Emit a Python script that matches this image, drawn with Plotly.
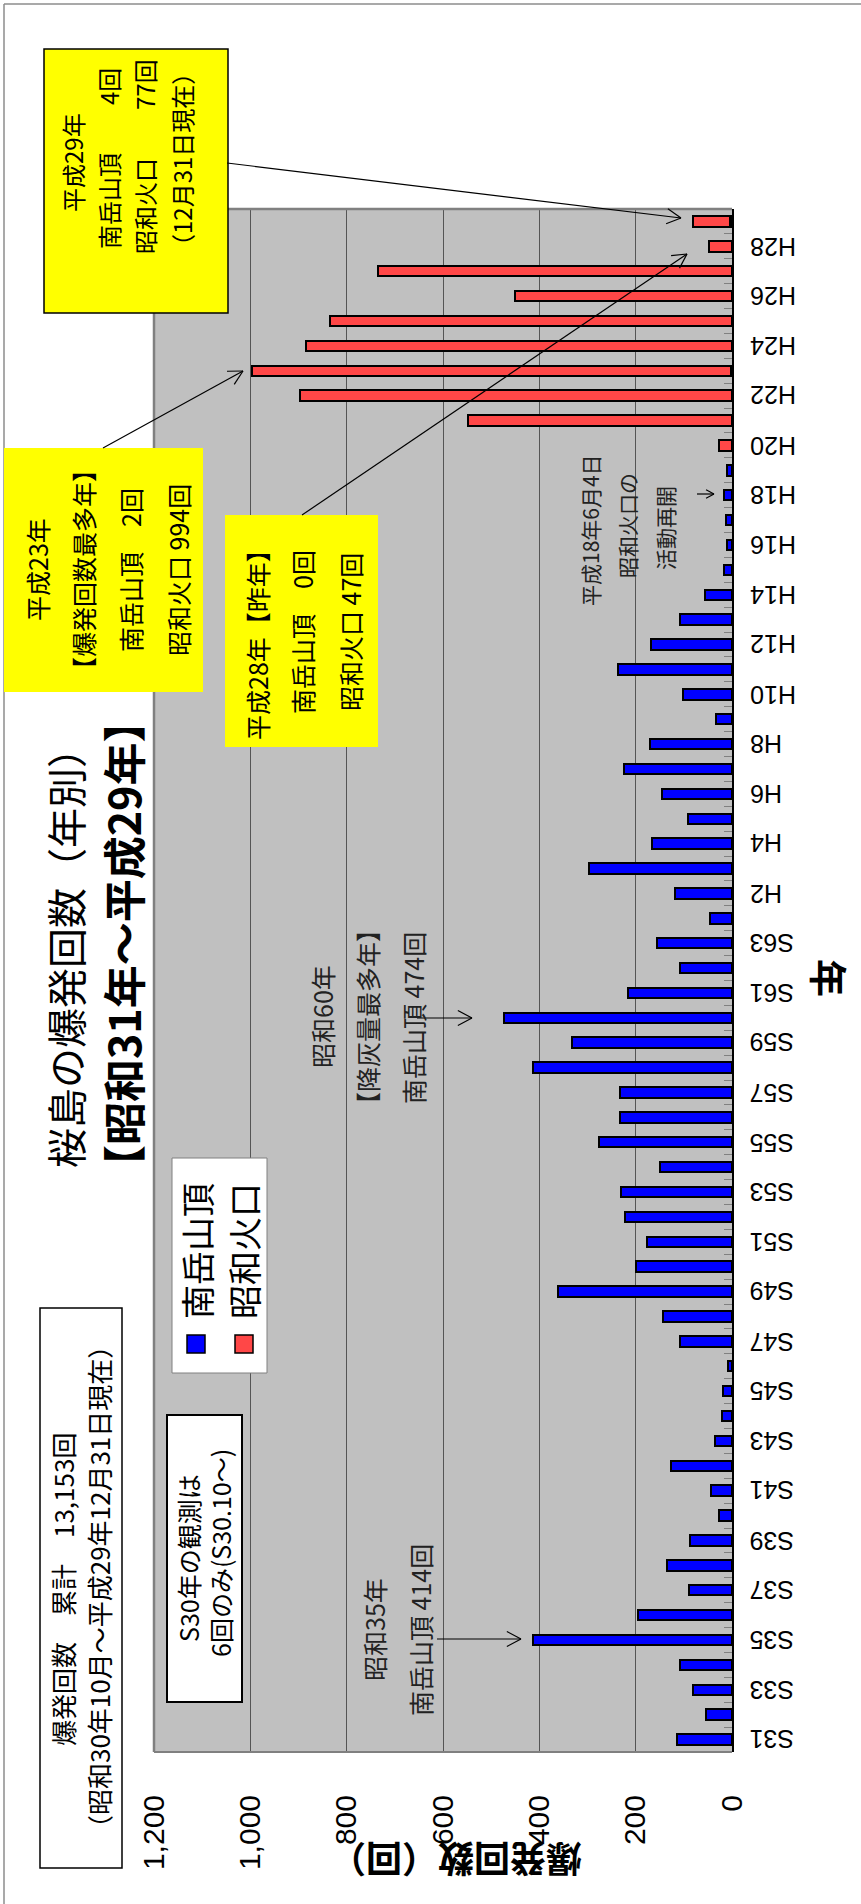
import math
import plotly.graph_objects as go

# Year categories (Showa 31 .. Heisei 29)
years = [
    "S31", "S32", "S33", "S34", "S35", "S36", "S37", "S38", "S39", "S40",
    "S41", "S42", "S43", "S44", "S45", "S46", "S47", "S48", "S49", "S50",
    "S51", "S52", "S53", "S54", "S55", "S56", "S57", "S58", "S59", "S60",
    "S61", "S62", "S63", "H1", "H2", "H3", "H4", "H5", "H6", "H7",
    "H8", "H9", "H10", "H11", "H12", "H13", "H14", "H15", "H16", "H17",
    "H18", "H19", "H20", "H21", "H22", "H23", "H24", "H25", "H26", "H27",
    "H28", "H29",
]

# Explosions at the Minamidake summit crater
minamidake = [
    114, 55, 81, 107, 414, 196, 89, 135, 87, 28,
    44, 127, 36, 21, 18, 9, 107, 144, 362, 199,
    176, 223, 230, 150, 277, 233, 233, 413, 332, 474,
    216, 107, 155, 45, 119, 296, 166, 92, 146, 224,
    170, 34, 102, 237, 168, 109, 57, 17, 10, 12,
    16, 10, 0, 0, 0, 2, 0, 0, 0, 0,
    0, 4,
]

# Explosions at the Showa crater
showa = [
    0, 0, 0, 0, 0, 0, 0, 0, 0, 0,
    0, 0, 0, 0, 0, 0, 0, 0, 0, 0,
    0, 0, 0, 0, 0, 0, 0, 0, 0, 0,
    0, 0, 0, 0, 0, 0, 0, 0, 0, 0,
    0, 0, 0, 0, 0, 0, 0, 0, 0, 0,
    0, 0, 28, 548, 896, 994, 885, 835, 450, 735,
    47, 77,
]

value_ticks = [0, 200, 400, 600, 800, 1000, 1200]
label_every = 2

JP = "Noto Sans CJK JP"
LAT = "Liberation Sans, Arial, Noto Sans CJK JP"

# plot-area box in page pixels
L, R, T, B = 154, 732, 209, 1752
W, H = R - L, B - T


def fx(px):
    return (px - L) / W


def fy(py):
    return (B - py) / H


idx = list(range(len(years)))

fig = go.Figure()
fig.add_bar(
    y=idx, x=minamidake, orientation="h", name="南岳山頂",
    marker=dict(color="#0000FF", line=dict(color="black", width=2)),
)
fig.add_bar(
    y=idx, x=showa, orientation="h", name="昭和火口",
    marker=dict(color="#FF4747", line=dict(color="black", width=2)),
)

shapes = []
annotations = []


def rect(x0, y0, x1, y1, fill, line_color=None, lw=1.5):
    shapes.append(dict(
        type="rect", xref="paper", yref="paper",
        x0=fx(x0), x1=fx(x1), y0=fy(y1), y1=fy(y0),
        fillcolor=fill,
        line=dict(color=line_color or "rgba(0,0,0,0)", width=lw if line_color else 0),
        layer="above",
    ))


def seg(x0, y0, x1, y1, color="black", lw=1.2):
    shapes.append(dict(
        type="line", xref="paper", yref="paper",
        x0=fx(x0), x1=fx(x1), y0=fy(y0), y1=fy(y1),
        line=dict(color=color, width=lw), layer="above",
    ))


def arrow(x0, y0, x1, y1, head=16):
    seg(x0, y0, x1, y1)
    ang = math.atan2(y1 - y0, x1 - x0)
    for d in (math.radians(28), -math.radians(28)):
        a = ang + math.pi + d
        seg(x1, y1, x1 + head * math.cos(a), y1 + head * math.sin(a))


def note(text, x, y, size, angle=-90, bold=False, family=JP, color="black"):
    if bold:
        text = "<b>" + text + "</b>"
    annotations.append(dict(
        text=text, xref="paper", yref="paper", x=fx(x), y=fy(y),
        xanchor="center", yanchor="middle", showarrow=False,
        textangle=angle, font=dict(family=family, size=size, color=color),
    ))


# year labels beside the category axis (upside-down, every second year)
for i in idx[::label_every]:
    annotations.append(dict(
        text=years[i], xref="paper", yref="y", x=fx(748), y=i,
        xanchor="left", yanchor="middle", showarrow=False, textangle=180,
        font=dict(family=LAT, size=25, color="black"),
    ))

# outer frame
seg(4, 4, 900, 4, color="#8c8c8c", lw=1.5)
seg(4, 4, 4, 1950, color="#8c8c8c", lw=1.5)

# plot-area frame
shapes.append(dict(type="line", xref="paper", yref="paper", x0=0, x1=0, y0=0, y1=1,
                   line=dict(color="#808080", width=2.5), layer="above"))
shapes.append(dict(type="line", xref="paper", yref="paper", x0=0, x1=1, y0=1, y1=1,
                   line=dict(color="#808080", width=2.5), layer="above"))
shapes.append(dict(type="line", xref="paper", yref="paper", x0=0, x1=1, y0=0, y1=0,
                   line=dict(color="#808080", width=2), layer="above"))

# title
note("桜島の爆発回数（年別）", 65, 948, 40)
note("【昭和31年～平成29年】", 122, 944, 43, bold=True)

# axis titles
note("爆発回数（回）", 456, 1861, 36, angle=180, bold=True)
note("年", 831, 978, 38, angle=90, bold=True)

# box: latest year
rect(44, 49, 228, 313, "#FFFF00", "black", 1.5)
note("平成29年", 73, 163, 24)
note("南岳山頂　　4回", 108, 159, 24)
note("昭和火口　　77回", 145, 157, 24)
note("（12月31日現在）", 181, 160, 24)
arrow(227, 163, 681, 218)

# box: most explosions
rect(4, 448, 203, 692, "#FFFF00")
note("平成23年", 37, 570, 25)
note("【爆発回数最多年】", 83, 570, 25)
note("南岳山頂　2回", 130, 570, 25)
note("昭和火口 994回", 178, 570, 25)
arrow(103, 448, 243, 371)

# box: previous year
rect(225, 515, 378, 747, "#FFFF00")
note("平成28年【昨年】", 257, 639, 25)
note("南岳山頂　0回", 302, 632, 25)
note("昭和火口 47回", 350, 632, 25)
arrow(302, 515, 687, 254)

# notes inside the plot
note("昭和35年", 374, 1630, 25, color="#222")
note("南岳山頂 414回", 420, 1630, 25, color="#222")
arrow(437, 1639, 521, 1639)

note("昭和60年", 322, 1017, 25, color="#222")
note("【降灰量最多年】", 367, 1017, 25, color="#222")
note("南岳山頂 474回", 413, 1018, 25, color="#222")
arrow(417, 1018, 472, 1018)

note("平成18年6月4日", 590, 530, 21, color="#222")
note("昭和火口の", 627, 526, 21, color="#222")
note("活動再開", 665, 528, 21, color="#222")
arrow(697, 494, 714, 494, head=9)

# legend
rect(172, 1158, 267, 1373, "white", "#808080", 1)
rect(187, 1335, 205, 1353, "#0000FF", "black", 1.5)
rect(235, 1335, 253, 1353, "#FF4747", "black", 1.5)
note("南岳山頂", 196, 1251, 34)
note("昭和火口", 243, 1251, 34)

# total count box
rect(40, 1308, 122, 1868, "white", "black", 1.5)
note("爆発回数　累計　13,153回", 62, 1590, 26)
note("（昭和30年10月～平成29年12月31日現在）", 98, 1587, 26)

# S30 remark box
rect(167, 1415, 242, 1702, "white", "black", 2)
note("S30年の観測は", 188, 1558, 25)
note("6回のみ(S30.10～)", 220, 1553, 25)

fig.update_layout(
    width=861, height=1904, autosize=False,
    margin=dict(l=L, r=861 - R, t=T, b=1904 - B, pad=0),
    paper_bgcolor="white", plot_bgcolor="#C0C0C0",
    barmode="stack", bargap=0.58, showlegend=False,
    shapes=shapes, annotations=annotations,
    xaxis=dict(
        range=[1200, 0], tickvals=value_ticks, tickformat=",",
        tickangle=-90, showgrid=True, gridcolor="#555555", gridwidth=1,
        zeroline=False, showline=False,
        ticks="outside", ticklen=30, tickcolor="rgba(0,0,0,0)",
        tickfont=dict(family=LAT, size=30, color="black"),
    ),
    yaxis=dict(
        range=[-0.5, len(years) - 0.5], side="right",
        showticklabels=False, showgrid=False, zeroline=False,
        showline=True, linecolor="black", linewidth=2, ticks="",
        minor=dict(tickvals=[i + 0.5 for i in range(-1, len(years))],
                   ticks="inside", ticklen=8, tickcolor="#808080", tickwidth=1),
    ),
)

fig.write_html("out.html")
